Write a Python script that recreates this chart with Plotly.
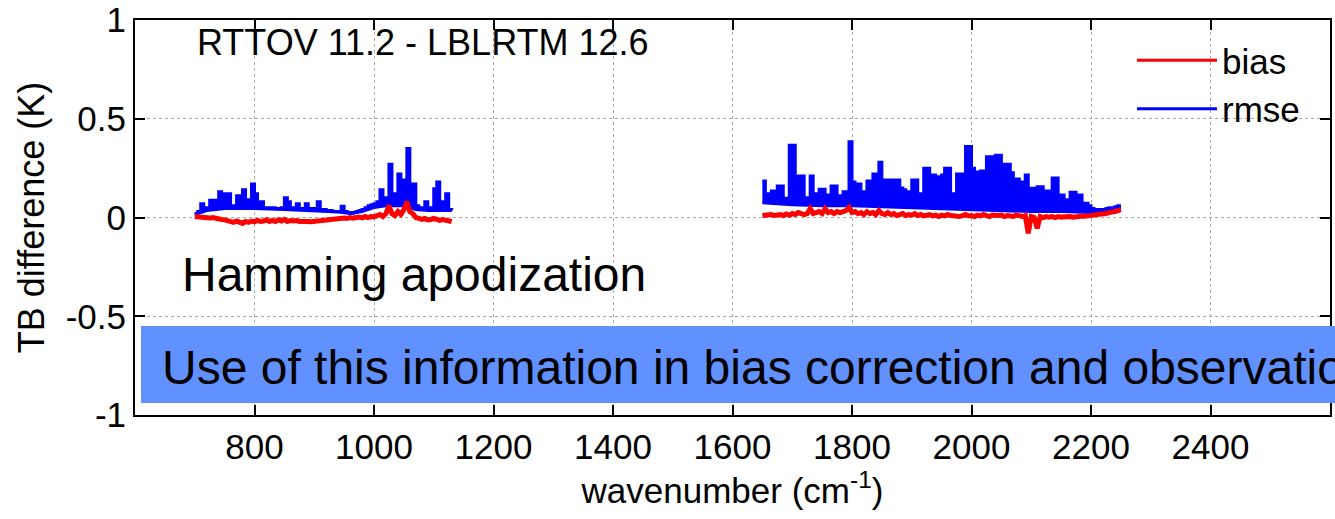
import numpy as np
import plotly.graph_objects as go

# ---------------- data ----------------
# channel grid: 5 cm-1 steps
lw_start, sw_start, step = 700, 1650, 5

rmse_lw = [
    0.02, 0.03, 0.07, 0.045, 0.05, 0.087, 0.087, 0.05, 0.13, 0.06,
    0.12, 0.12, 0.05, 0.06, 0.11, 0.11, 0.14, 0.09, 0.07, 0.17,
    0.12, 0.06, 0.08, 0.05, 0.05, 0.045, 0.05, 0.045, 0.045, 0.05,
    0.10, 0.08, 0.045, 0.05, 0.07, 0.045, 0.04, 0.07, 0.045, 0.04,
    0.045, 0.08, 0.04, 0.04, 0.035, 0.035, 0.03, 0.03, 0.03, 0.057,
    0.03, 0.025, 0.02, 0.025, 0.03, 0.035, 0.04, 0.05, 0.06, 0.065,
    0.07, 0.08, 0.14, 0.09, 0.10, 0.27, 0.12, 0.10, 0.22, 0.15,
    0.19, 0.35, 0.17, 0.17, 0.06, 0.05, 0.04, 0.08, 0.05, 0.05,
    0.146, 0.18, 0.08, 0.06, 0.12, 0.04, 0.035,
]
bias_lw = [
    0.005, 0.003, 0.0, 0.002, 0.0, -0.003, 0.0, -0.005, -0.008, -0.01,
    -0.012, -0.015, -0.02, -0.025, -0.018, -0.022, -0.03, -0.02, -0.025, -0.018,
    -0.022, -0.015, -0.02, -0.018, -0.012, -0.02, -0.015, -0.02, -0.012, -0.018,
    -0.01, -0.02, -0.015, -0.018, -0.015, -0.02, -0.018, -0.02, -0.02, -0.022,
    -0.02, -0.018, -0.02, -0.015, -0.015, -0.012, -0.01, -0.01, -0.008, -0.005,
    -0.003, -0.005, 0.0, -0.003, 0.0, 0.002, -0.002, 0.005, 0.0, 0.005,
    0.003, 0.01, 0.015, 0.005, 0.02, 0.06, 0.02, 0.01, 0.03, 0.015,
    0.04, 0.08, 0.03, 0.02, 0.0, -0.005, -0.01, -0.005, -0.012, -0.01,
    -0.005, -0.01, -0.015, -0.01, -0.015, -0.02, -0.02,
]
rmse_sw = [
    0.185, 0.12, 0.12, 0.134, 0.114, 0.16, 0.16, 0.097, 0.09, 0.366,
    0.366, 0.156, 0.21, 0.21, 0.09, 0.10, 0.21, 0.12, 0.11, 0.143,
    0.143, 0.114, 0.10, 0.16, 0.16, 0.11, 0.11, 0.13, 0.10, 0.383,
    0.18, 0.17, 0.17, 0.13, 0.13, 0.185, 0.185, 0.22, 0.22, 0.28,
    0.165, 0.19, 0.19, 0.11, 0.19, 0.19, 0.15, 0.14, 0.13, 0.13,
    0.19, 0.19, 0.12, 0.12, 0.25, 0.25, 0.09, 0.215, 0.206, 0.165,
    0.215, 0.25, 0.25, 0.12, 0.12, 0.22, 0.22, 0.08, 0.36, 0.36,
    0.25, 0.23, 0.23, 0.235, 0.235, 0.307, 0.307, 0.097, 0.315, 0.315,
    0.12, 0.27, 0.27, 0.227, 0.195, 0.195, 0.18, 0.18, 0.215, 0.148,
    0.148, 0.12, 0.156, 0.156, 0.134, 0.134, 0.09, 0.2, 0.2, 0.114,
    0.114, 0.09, 0.09, 0.128, 0.128, 0.114, 0.114, 0.072, 0.072, 0.06,
    0.045, 0.04, 0.04, 0.04, 0.04, 0.045, 0.05, 0.05, 0.055, 0.06,
    0.06,
]
bias_sw = [
    0.01, 0.012, 0.008, 0.015, 0.01, 0.012, 0.015, 0.01, 0.018, 0.012,
    0.02, 0.015, 0.025, 0.02, 0.015, 0.02, 0.045, 0.02, 0.025, 0.03,
    0.02, 0.045, 0.025, 0.03, 0.02, 0.03, 0.025, 0.03, 0.035, 0.05,
    0.025, 0.03, 0.02, 0.025, 0.015, 0.03, 0.02, 0.025, 0.015, 0.035,
    0.02, 0.015, 0.025, 0.015, 0.02, 0.01, 0.015, 0.02, 0.01, 0.015,
    0.012, 0.02, 0.01, 0.015, 0.008, 0.012, 0.015, 0.008, 0.012, 0.005,
    0.012, 0.008, 0.015, 0.01, 0.008, 0.012, 0.005, 0.01, 0.015, 0.008,
    0.01, 0.005, 0.012, 0.008, 0.015, 0.01, 0.005, 0.012, 0.008, 0.01,
    0.012, 0.005, 0.01, 0.008, 0.005, 0.012, 0.008, 0.005, 0.01, -0.08,
    0.005, 0.0, -0.055, 0.005, 0.0, 0.005, 0.002, 0.005, 0.0, 0.005,
    0.002, 0.004, 0.0, 0.005, 0.002, 0.006, 0.004, 0.008, 0.006, 0.01,
    0.01, 0.012, 0.015, 0.015, 0.018, 0.02, 0.025, 0.025, 0.03, 0.035,
    0.04,
]
# lower envelope of the rmse band
rmse_floor_lw_x = [700, 720, 750, 800, 850, 900, 940, 960, 980, 1000, 1020, 1050, 1070, 1090, 1130]
rmse_floor_lw = [0.015, 0.035, 0.045, 0.045, 0.04, 0.035, 0.028, 0.02, 0.03, 0.05, 0.06, 0.06, 0.04, 0.035, 0.035]
rmse_floor_sw_x = [1650, 1700, 1750, 1800, 1850, 1900, 1950, 2000, 2050, 2100, 2150, 2200, 2230, 2250]
rmse_floor_sw = [0.075, 0.065, 0.06, 0.06, 0.055, 0.05, 0.045, 0.04, 0.035, 0.03, 0.03, 0.025, 0.035, 0.045]

x_ticks = [800, 1000, 1200, 1400, 1600, 1800, 2000, 2200, 2400]
y_ticks = [-1, -0.5, 0, 0.5, 1]
y_ticktext = ["-1", "-0.5", "0", "0.5", "1"]

wn_lw = lw_start + step * np.arange(len(rmse_lw))
wn_sw = sw_start + step * np.arange(len(rmse_sw))

RED = "#ff0000"
BLUE = "#0000ff"
FONT = "Liberation Sans, Arial, Helvetica, sans-serif"

fig = go.Figure()
# legend entries
fig.add_trace(go.Scatter(x=[None], y=[None], mode="lines", name="bias",
                         line=dict(color=RED, width=3)))
fig.add_trace(go.Scatter(x=[None], y=[None], mode="lines", name="rmse",
                         line=dict(color=BLUE, width=3)))
# rmse bands (floor + filled spikes)
for fx, fy, wx, wy in [(rmse_floor_lw_x, rmse_floor_lw, wn_lw, rmse_lw),
                       (rmse_floor_sw_x, rmse_floor_sw, wn_sw, rmse_sw)]:
    fig.add_trace(go.Scatter(x=fx, y=fy, mode="lines", showlegend=False,
                             line=dict(color=BLUE, width=3)))
    fig.add_trace(go.Scatter(x=wx, y=wy, mode="lines", showlegend=False,
                             line=dict(color=BLUE, width=3, shape="hv"),
                             fill="tonexty", fillcolor=BLUE))
# bias lines
for wx, wy in [(wn_lw, bias_lw), (wn_sw, bias_sw)]:
    fig.add_trace(go.Scatter(x=wx, y=wy, mode="lines", showlegend=False,
                             line=dict(color=RED, width=5)))

L, R, T, B = 135, 5, 20, 104
W, H = 1335, 519
pw, ph = W - L - R, H - T - B

def px(xp):
    return (xp - L) / pw

def py(yp):
    return (H - B - yp) / ph

axis_common = dict(
    showline=True, linecolor="black", linewidth=2, mirror="ticks",
    ticks="inside", ticklen=10, tickwidth=2, tickcolor="black",
    showgrid=True, gridcolor="#aaaaaa", gridwidth=1, griddash="dot",
    zeroline=False, tickfont=dict(size=35, color="black", family=FONT),
)
fig.update_xaxes(range=[600, 2600], tickmode="array", tickvals=x_ticks,
                 title=dict(text="wavenumber (cm<sup>-1</sup>)",
                            font=dict(size=35, color="black", family=FONT), standoff=13),
                 **axis_common)
fig.update_yaxes(range=[-1, 1], tickmode="array", tickvals=y_ticks, ticktext=y_ticktext,
                 title=dict(text="TB difference (K)",
                            font=dict(size=36, color="black", family=FONT), standoff=10),
                 **axis_common)

fig.add_shape(type="rect", xref="paper", yref="paper",
              x0=px(141), x1=px(1345), y0=py(403), y1=py(326),
              fillcolor="#6190ff", line=dict(width=0), layer="above")

fig.add_annotation(text="RTTOV 11.2 - LBLRTM 12.6", xref="paper", yref="paper",
                   x=px(195), y=py(43), xanchor="left", yanchor="middle", showarrow=False,
                   font=dict(size=36, color="black", family=FONT))
fig.add_annotation(text="Hamming apodization", xref="paper", yref="paper",
                   x=px(180), y=py(274), xanchor="left", yanchor="middle", showarrow=False,
                   font=dict(size=48, color="black", family=FONT))
fig.add_annotation(text="Use of this information in bias correction and observation",
                   xref="paper", yref="paper",
                   x=px(160), y=py(367), xanchor="left", yanchor="middle", showarrow=False,
                   font=dict(size=48, color="black", family=FONT))

fig.update_layout(
    width=W, height=H,
    margin=dict(l=L, r=R, t=T, b=B, autoexpand=False),
    paper_bgcolor="white", plot_bgcolor="white",
    font=dict(family=FONT, color="black"),
    showlegend=True,
    legend=dict(x=px(1132), y=py(31), xanchor="left", yanchor="top",
                traceorder="normal",
                bgcolor="rgba(0,0,0,0)", borderwidth=0, itemwidth=80,
                font=dict(size=35, color="black", family=FONT),
                tracegroupgap=0),
)

fig.write_html("out.html")
